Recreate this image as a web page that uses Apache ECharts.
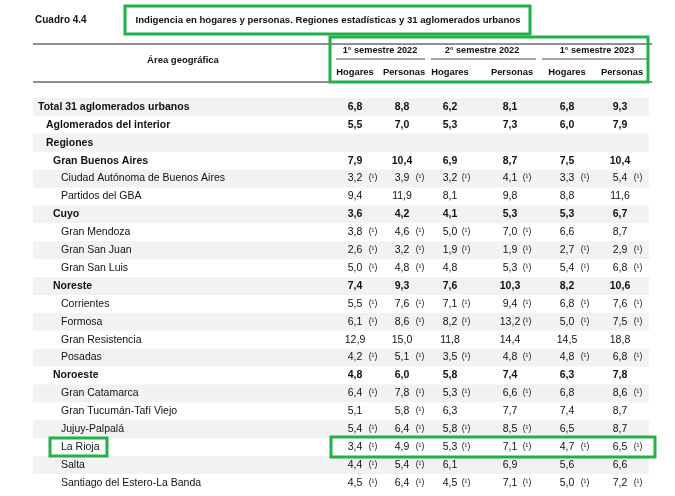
<!DOCTYPE html>
<html><head><meta charset="utf-8">
<script src="https://cdn.jsdelivr.net/npm/echarts@6/dist/echarts.min.js"></script>
<style>html,body{margin:0;padding:0;background:#fff}#c{width:675px;height:496px}</style>
</head><body><div id="c"></div>
<script>
const semesters = ['1° semestre 2022','2° semestre 2022','1° semestre 2023'];
const subHeaders = ['Hogares','Personas','Hogares','Personas','Hogares','Personas'];
const areas = ['Total 31 aglomerados urbanos','Aglomerados del interior','Regiones','Gran Buenos Aires','Ciudad Autónoma de Buenos Aires','Partidos del GBA','Cuyo','Gran Mendoza','Gran San Juan','Gran San Luis','Noreste','Corrientes','Formosa','Gran Resistencia','Posadas','Noroeste','Gran Catamarca','Gran Tucumán-Tafí Viejo','Jujuy-Palpalá','La Rioja','Salta','Santiago del Estero-La Banda'];
const levels = [0,1,1,2,3,3,2,3,3,3,2,3,3,3,3,2,3,3,3,3,3,3];
const boldRows = [1,1,1,1,0,0,1,0,0,0,1,0,0,0,0,1,0,0,0,0,0,0];
const values = [
 ['6,8','8,8','6,2','8,1','6,8','9,3'],
 ['5,5','7,0','5,3','7,3','6,0','7,9'],
 null,
 ['7,9','10,4','6,9','8,7','7,5','10,4'],
 ['3,2','3,9','3,2','4,1','3,3','5,4'],
 ['9,4','11,9','8,1','9,8','8,8','11,6'],
 ['3,6','4,2','4,1','5,3','5,3','6,7'],
 ['3,8','4,6','5,0','7,0','6,6','8,7'],
 ['2,6','3,2','1,9','1,9','2,7','2,9'],
 ['5,0','4,8','4,8','5,3','5,4','6,8'],
 ['7,4','9,3','7,6','10,3','8,2','10,6'],
 ['5,5','7,6','7,1','9,4','6,8','7,6'],
 ['6,1','8,6','8,2','13,2','5,0','7,5'],
 ['12,9','15,0','11,8','14,4','14,5','18,8'],
 ['4,2','5,1','3,5','4,8','4,8','6,8'],
 ['4,8','6,0','5,8','7,4','6,3','7,8'],
 ['6,4','7,8','5,3','6,6','6,8','8,6'],
 ['5,1','5,8','6,3','7,7','7,4','8,7'],
 ['5,4','6,4','5,8','8,5','6,5','8,7'],
 ['3,4','4,9','5,3','7,1','4,7','6,5'],
 ['4,4','5,4','6,1','6,9','5,6','6,6'],
 ['4,5','6,4','4,5','7,1','5,0','7,2']
];
const notes = [
 [0,0,0,0,0,0],[0,0,0,0,0,0],null,[0,0,0,0,0,0],
 [1,1,1,1,1,1],[0,0,0,0,0,0],[0,0,0,0,0,0],
 [1,1,1,1,0,0],[1,1,1,1,1,1],[1,1,0,1,1,1],
 [0,0,0,0,0,0],[1,1,1,1,1,1],[1,1,1,1,1,1],[0,0,0,0,0,0],[1,1,1,1,1,1],
 [0,0,0,0,0,0],[1,1,1,1,0,1],[0,1,0,0,0,0],[1,1,1,1,0,0],[1,1,1,1,1,1],
 [1,1,0,0,0,0],[1,1,1,1,1,1]
];
const highlightRow = 19;

const FONT = '"Liberation Sans",Arial,sans-serif';
const colX = [355,402,450,510,567,620];
const noteX = [373,420,466,527,585,638];
const semX = [380,482,597];
const semLine = [[336,425],[431,536],[542,648]];
const rowY0 = 107, rowH = 17.9;
const indent = [38,46,46,53,61];
const g = [];
const txt = (x,y,s,o={}) => g.push({type:'text',x,y,style:Object.assign({text:s,font:(o.bold?'bold ':'')+(o.size||11)+'px '+FONT,fill:'#111',align:o.align||'left',verticalAlign:'middle'},o.style||{})});
const line = (x1,y1,x2,y2,w,c) => g.push({type:'line',shape:{x1,y1,x2,y2},style:{stroke:c||'#222',lineWidth:w||1}});
const rect = (x,y,w,h,style,z) => g.push({type:'rect',shape:{x,y,width:w,height:h},style,z:z||0});

txt(35,20,'Cuadro 4.4',{bold:true,size:10});
txt(328,20,'Indigencia en hogares y personas. Regiones estadísticas y 31 aglomerados urbanos',{bold:true,size:9.6,align:'center'});
rect(125,6,405,28,{fill:'none',stroke:'#22b04b',lineWidth:3},5);
line(33,44,652,44,1);
line(33,82,652,82,1);
txt(183,60,'Área geográfica',{bold:true,size:9.5,align:'center'});
semesters.forEach((s,i)=>{txt(semX[i],50,s,{bold:true,size:9.2,align:'center'});line(semLine[i][0],59,semLine[i][1],59,0.8);});
subHeaders.forEach((s,i)=>txt(colX[i]+(i%2?2:0),72,s,{bold:true,size:9.4,align:'center'}));
rect(330,37,318,45,{fill:'none',stroke:'#22b04b',lineWidth:3},5);

areas.forEach((a,r)=>{
  const y = rowY0 + r*rowH;
  if (r%2===0) rect(33,y-rowH/2,616,rowH,{fill:'#f2f2f2'},-1);
  txt(indent[levels[r]+(levels[r]>=1?1:0)] ?? 61, y, a, {bold:!!boldRows[r],size:10.5});
  if (values[r]) values[r].forEach((v,c)=>{
    txt(colX[c],y,v,{bold:!!boldRows[r],size:10.5,align:'center'});
    if (notes[r][c]) txt(noteX[c],y-0.5,'(¹)',{size:8.5,align:'center'});
  });
});
const hy = rowY0 + highlightRow*rowH;
rect(50,hy-9,57,18,{fill:'none',stroke:'#22b04b',lineWidth:3},5);
rect(331,hy-10,324,20,{fill:'none',stroke:'#22b04b',lineWidth:3},5);

const chart = echarts.init(document.getElementById('c'));
chart.setOption({animation:false,graphic:g});
</script></body></html>
